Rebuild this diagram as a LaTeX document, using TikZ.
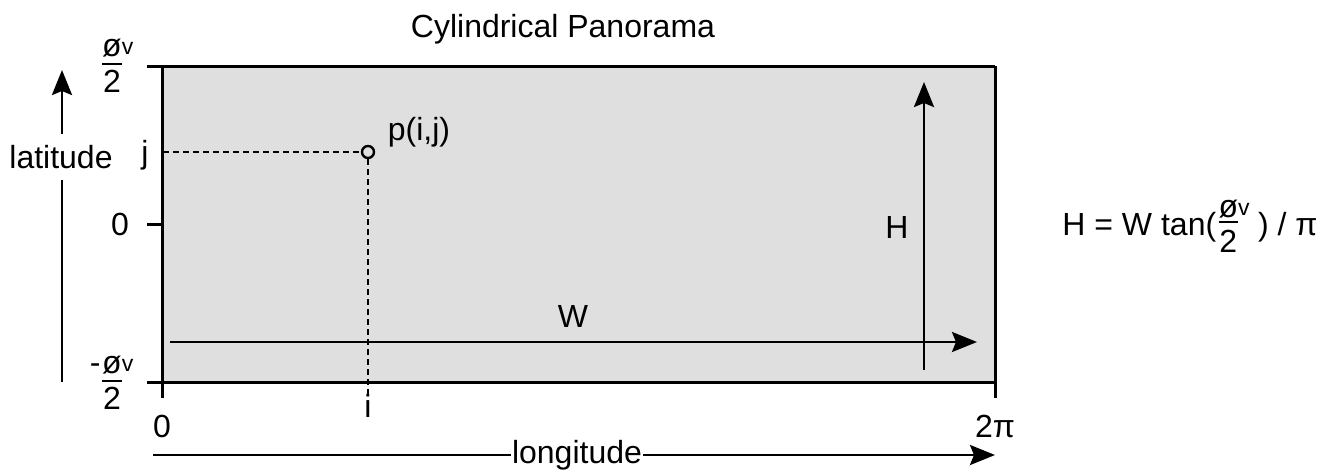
\documentclass[tikz,border=0pt]{standalone}
\usepackage{amsmath}
\usepackage{fontspec}
\setmainfont{Liberation Sans}
\usetikzlibrary{arrows.meta}
\definecolor{panofill}{RGB}{223,223,223}
% small "v" written after the angle symbol
\newcommand{\vmark}{\raisebox{0.8pt}{\fontsize{11.5}{11.5}\selectfont v}}
% half of the vertical field of view, as a stacked fraction (axis labels)
\newcommand{\fovlabel}[1]{$\genfrac{}{}{1pt}{1}%
  {\mbox{\llap{#1\kern0.8pt}ø\rule[-2.5pt]{0pt}{2.5pt}\rlap{\vmark}}}%
  {\mbox{\rule{0pt}{12.5pt}2}}$}
% the same fraction, set inside the formula
\newcommand{\fovinline}{\raisebox{2pt}{$\genfrac{}{}{1pt}{1}%
  {\mbox{ø\rlap{\vmark}}}{\mbox{\rule{0pt}{13.5pt}2}}$}}

\begin{document}
\begin{tikzpicture}[x=0.5pt,y=-0.5pt,
  lbl/.style={font=\fontsize{16}{19}\selectfont, inner sep=0pt},
  frame/.style={line width=1.5pt},
  arr/.style={line width=1.4pt,-{Stealth[length=12.5pt,width=10pt,inset=2pt]}},
  guide/.style={line width=1.2pt,dash pattern=on 3pt off 2pt}]
\useasboundingbox (0,0) rectangle (1334,471);

% panorama area
\fill[panofill] (162,66) rectangle (995,382);
\draw[frame] (147,66) -- (995,66);
\draw[frame] (147,382) -- (995,382);
\draw[frame] (162,66) -- (162,398);
\draw[frame] (995,66) -- (995,398);
\draw[frame] (147,224) -- (162,224);

% title
\node[lbl, anchor=base] (title) at (563,37) {Cylindrical Panorama};

% vertical axis labels
\node[lbl, anchor=base] (top) at (112,73) {\fovlabel{}};
\node[lbl, anchor=base] (bot) at (112,390) {\fovlabel{-}};
\node[lbl, anchor=base] (zero) at (120,235) {0};
\node[lbl, anchor=base] (jl) at (145,163) {j};

% horizontal axis labels
\node[lbl, anchor=base] (x0) at (162,437) {0};
\node[lbl, anchor=base] (x2pi) at (995,437) {2π};
\node[lbl, anchor=base] (il) at (368,417) {i};

% sample point
\node[draw, circle, line width=1.2pt, minimum size=6pt, inner sep=0pt] (p) at (368,152) {};
\node[lbl, anchor=base] (plbl) at (419,140) {p(i,j)};
\coordinate (jedge) at (163,152);
\coordinate (ifoot) at (368,396);
\draw[guide] (jedge) -- (p.west);
\draw[guide] (p.south) -- (ifoot);

% width and height arrows
\coordinate (wstart) at (170,342);
\coordinate (wend) at (977,342);
\draw[arr] (wstart) -- (wend);
\node[lbl, anchor=base] (wl) at (573,327) {W};
\coordinate (hstart) at (924,370);
\coordinate (hend) at (924,82);
\draw[arr] (hstart) -- (hend);
\node[lbl, anchor=base] (hl) at (897,238) {H};

% latitude arrow
\node[lbl, inner ysep=5.5pt] (lat) at (61,157) {latitude};
\coordinate (latbot) at (62,382);
\coordinate (lattop) at (62,70);
\draw[line width=1.4pt] (latbot) -- (lat.south -| latbot);
\draw[arr] (lat.north -| lattop) -- (lattop);

% longitude arrow
\node[lbl, inner xsep=0.5pt] (lon) at (577,455) {longitude};
\coordinate (lonl) at (153,455);
\coordinate (lonr) at (995,455);
\draw[line width=1.4pt] (lonl) -- (lon.west);
\draw[arr] (lon.east) -- (lonr);

% relation between width and height
\node[lbl, anchor=base west] (formula) at (1062,235)
  {H = W tan(\fovinline\hspace{0.55em}) / π};
\end{tikzpicture}
\end{document}
